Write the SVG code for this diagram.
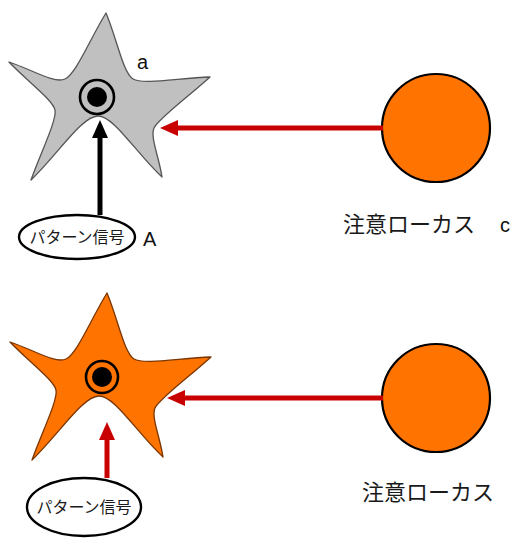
<svg xmlns="http://www.w3.org/2000/svg" width="514" height="548" viewBox="0 0 514 548">
  <style>
    .cell { stroke-width: 1.3; stroke-linejoin: round; }
    .ring { fill: none; stroke: #000; stroke-width: 2.6; }
    .dot { fill: #000; }
    .focus { fill: #ff7300; stroke: #000; stroke-width: 2.2; }
    .signal { fill: #fff; stroke: #000; stroke-width: 2.4; }
    .jp { font-family: "Liberation Sans", "Noto Sans CJK JP", sans-serif; fill: #1a1a1a; }
    .lbl { font-family: "Liberation Sans", Arial, sans-serif; fill: #111; font-size: 20px; }
    .shaft-k { stroke: #000; stroke-width: 5; fill: none; }
    .shaft-r { stroke: #c80000; stroke-width: 5; fill: none; }
  </style>
  <defs>
    <!-- five-armed cell body: tips joined through rounded notches -->
    <path id="star" d="M106,13
      C117,39 123,73 133,79 C143,85 179,78 210,77
      C188,97 158,119 154,128 C150,137 159,157 162,177
      C136,153 114,116 98,116 C82,116 58,154 31,180
      C41,152 57,120 55,110 C53,100 27,81 9,62
      C31,69 54,84 65,79 C76,74 90,39 106,13 Z"/>
    <marker id="headK" viewBox="0 0 18 16" refX="10" refY="8" markerWidth="18" markerHeight="16" orient="auto" markerUnits="userSpaceOnUse">
      <path d="M0,0 L18,8 L0,16 Z" fill="#000"/>
    </marker>
    <marker id="headR" viewBox="0 0 18 16" refX="10" refY="8" markerWidth="18" markerHeight="16" orient="auto" markerUnits="userSpaceOnUse">
      <path d="M0,0 L18,8 L0,16 Z" fill="#c80000"/>
    </marker>
  </defs>

  <!-- upper panel -->
  <g id="neuron-a">
    <use href="#star" class="cell" fill="#c0c0c0" stroke="#555"/>
    <circle class="ring" cx="97" cy="97" r="17"/>
    <circle class="dot" cx="97" cy="97" r="10"/>
    <text class="lbl" x="137" y="69">a</text>
  </g>
  <g id="focus-c">
    <circle class="focus" cx="436" cy="128" r="54"/>
    <text class="jp" x="343" y="232" font-size="22">注意ローカス</text>
    <text class="lbl" x="500" y="232">c</text>
  </g>
  <g id="signal-A">
    <ellipse class="signal" cx="77" cy="237" rx="58" ry="22"/>
    <text class="jp" x="77" y="243" font-size="16" text-anchor="middle">パターン信号</text>
    <text class="lbl" x="143" y="246">A</text>
  </g>

  <!-- lower panel -->
  <g id="neuron-active">
    <use href="#star" class="cell" transform="translate(1,280)" fill="#ff7300" stroke="#7a3500"/>
    <circle class="ring" cx="102" cy="377" r="16"/>
    <circle class="dot" cx="102" cy="377" r="10"/>
  </g>
  <g id="focus-2">
    <circle class="focus" cx="436" cy="398" r="54"/>
    <text class="jp" x="362" y="500" font-size="22">注意ローカス</text>
  </g>
  <g id="signal-2">
    <ellipse class="signal" cx="84" cy="507" rx="57" ry="29"/>
    <text class="jp" x="84" y="513" font-size="16" text-anchor="middle">パターン信号</text>
  </g>

  <g id="connectors">
    <line class="shaft-r" x1="383" y1="128" x2="168" y2="128" marker-end="url(#headR)"/>
    <line class="shaft-k" x1="100" y1="215" x2="100" y2="128" marker-end="url(#headK)"/>
    <line class="shaft-r" x1="383" y1="398" x2="175" y2="398" marker-end="url(#headR)"/>
    <line class="shaft-r" x1="107" y1="478" x2="107" y2="430" marker-end="url(#headR)"/>
  </g>
</svg>
